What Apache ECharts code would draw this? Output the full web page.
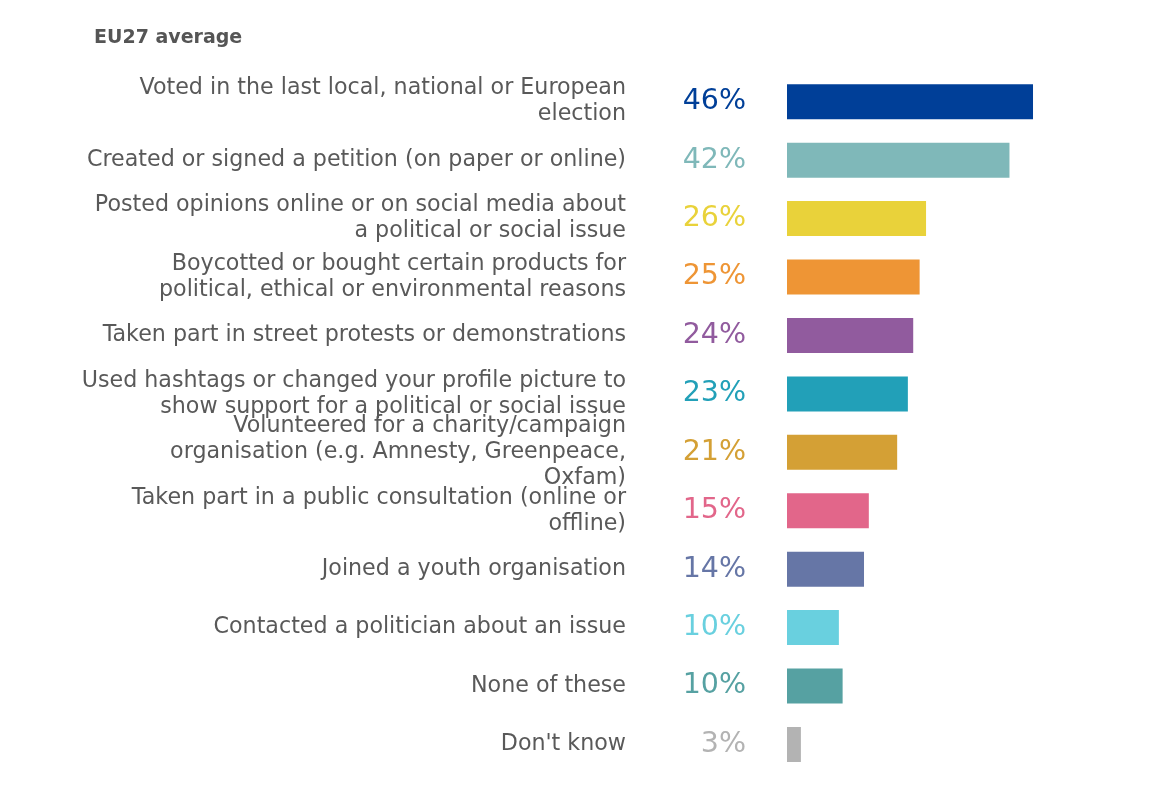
<!DOCTYPE html>
<html>
<head>
<meta charset="utf-8">
<script src="https://cdn.jsdelivr.net/npm/echarts@6/dist/echarts.min.js"></script>
<style>
html,body{margin:0;padding:0;background:#fff;}
#c{width:1168px;height:786px;}
</style>
</head>
<body>
<div id="c"></div>
<script>
const categories = [
  "Voted in the last local, national or European\nelection",
  "Created or signed a petition (on paper or online)",
  "Posted opinions online or on social media about\na political or social issue",
  "Boycotted or bought certain products for\npolitical, ethical or environmental reasons",
  "Taken part in street protests or demonstrations",
  "Used hashtags or changed your profile picture to\nshow support for a political or social issue",
  "Volunteered for a charity/campaign\norganisation (e.g. Amnesty, Greenpeace,\nOxfam)",
  "Taken part in a public consultation (online or\noffline)",
  "Joined a youth organisation",
  "Contacted a politician about an issue",
  "None of these",
  "Don't know"
];
const values = [46, 41.6, 26, 24.8, 23.6, 22.6, 20.6, 15.3, 14.4, 9.7, 10.4, 2.6];
const colors = ["#003f98", "#7fb8b9", "#e9d23a", "#ee9535", "#915b9e", "#22a0b8",
                "#d4a035", "#e2668a", "#6676a6", "#69d0df", "#56a1a2", "#b3b3b3"];
const title = "EU27 average";

const chart = echarts.init(document.getElementById('c'), null, {renderer: 'canvas'});
chart.setOption({
  backgroundColor: '#ffffff',
  animation: false,
  title: {
    text: title, left: 89, top: 24,
    textStyle: {fontFamily: 'DejaVu Sans', fontSize: 19, fontWeight: 'bold', color: '#555555'}
  },
  grid: {left: 787, right: 113.6, top: 72.5, bottom: 12.3, containLabel: false},
  xAxis: {
    type: 'value', min: 0, max: 50, show: false
  },
  yAxis: {
    type: 'category', data: categories, inverse: true,
    axisLine: {show: false}, axisTick: {show: false}, splitLine: {show: false},
    axisLabel: {
      margin: 161, align: 'right', fontFamily: 'DejaVu Sans', fontSize: 22.2,
      lineHeight: 26, color: '#595959', padding: [0, 0, 3, 0]
    }
  },
  series: [{
    type: 'bar',
    barWidth: 35,
    data: values.map((v, i) => ({value: v, itemStyle: {color: colors[i]},
      label: {color: colors[i]}})),
    label: {
      show: true, position: 'left', distance: 41,
      fontFamily: 'DejaVu Sans', fontSize: 28.5,
      formatter: p => Math.round(p.value) + '%'
    }
  }]
});
</script>
</body>
</html>
